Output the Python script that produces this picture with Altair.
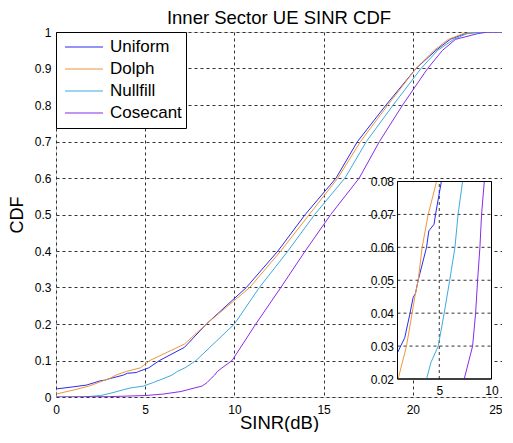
import altair as alt
import pandas as pd

# ---------------- data ----------------
series_names = ["Uniform", "Dolph", "Nullfill", "Cosecant"]
series_colors = ["#2a2af2", "#ef9638", "#3eaadf", "#8a2be8"]

uniform_x = [0, 1.0, 1.7, 2.18, 2.5, 2.72, 2.98, 3.78, 4.0, 4.5, 4.64, 5.2, 5.8, 7.2, 8.43, 10.67, 12.44, 13.97, 15.7, 16.9, 18.5, 20.18, 21.3, 22.1, 22.9, 23.6, 25]
uniform_y = [0.022, 0.028, 0.0326, 0.0397, 0.0448, 0.046, 0.05, 0.06, 0.065, 0.067, 0.07, 0.08, 0.1, 0.136, 0.2, 0.3, 0.4, 0.5, 0.6, 0.7, 0.8, 0.9, 0.95, 0.98, 0.995, 1.0, 1.0]

dolph_x = [0, 1.06, 1.86, 2.4, 2.66, 2.98, 3.36, 3.94, 4.74, 5.26, 7.2, 8.43, 10.86, 12.6, 14.2, 15.8, 17.07, 18.6, 20.18, 21.2, 22.0, 22.8, 23.5, 25]
dolph_y = [0.008, 0.02, 0.03, 0.04, 0.045, 0.05, 0.06, 0.07, 0.08, 0.1, 0.145, 0.2, 0.3, 0.4, 0.5, 0.6, 0.7, 0.8, 0.9, 0.95, 0.98, 0.995, 1.0, 1.0]

nullfill_x = [0, 1.5, 2.5, 3.2, 3.78, 4.2, 4.9, 5.47, 6.0, 6.5, 6.8, 7.23, 7.85, 10.0, 11.4, 13.0, 14.5, 16.2, 17.4, 18.9, 20.46, 21.4, 22.3, 23.0, 24.0, 25]
nullfill_y = [0, 0.0, 0.004, 0.012, 0.02, 0.025, 0.03, 0.04, 0.05, 0.06, 0.07, 0.08, 0.1, 0.2, 0.3, 0.4, 0.5, 0.6, 0.7, 0.8, 0.9, 0.95, 0.98, 0.995, 1.0, 1.0]

cosecant_x = [0, 3.0, 5.0, 6.0, 7.0, 7.39, 8.19, 8.48, 8.67, 8.89, 9.05, 9.31, 9.87, 11.2, 12.6, 13.97, 15.4, 17.0, 18.13, 19.43, 20.83, 21.67, 22.4, 23.6, 24.2, 25]
cosecant_y = [0, 0.001, 0.004, 0.008, 0.015, 0.02, 0.03, 0.04, 0.05, 0.06, 0.07, 0.08, 0.1, 0.2, 0.3, 0.4, 0.5, 0.6, 0.7, 0.8, 0.9, 0.95, 0.98, 0.995, 1.0, 1.0]

x_ticks = [0, 5, 10, 15, 20, 25]
y_ticks = [0, 0.1, 0.2, 0.3, 0.4, 0.5, 0.6, 0.7, 0.8, 0.9, 1.0]

inset_x_domain = [1, 10]
inset_y_domain = [0.02, 0.08]
inset_x_ticks = [5, 10]
inset_y_ticks = [0.02, 0.03, 0.04, 0.05, 0.06, 0.07, 0.08]
inset_x_grid = [5]
inset_y_grid = [0.03, 0.04, 0.05, 0.06, 0.07]

rows = []
for name, xs, ys in zip(series_names,
                        [uniform_x, dolph_x, nullfill_x, cosecant_x],
                        [uniform_y, dolph_y, nullfill_y, cosecant_y]):
    for i, (xv, yv) in enumerate(zip(xs, ys)):
        rows.append({"series": name, "sinr": xv, "cdf": yv, "order": i})
df = pd.DataFrame(rows)

# ---------------- layout ----------------
PW, PH = 446, 365
FONT = "Liberation Sans"
GRID_DASH = [3, 3]
GRID_COLOR = "#333333"

# inset placement (pixels inside the plot area)
INS_X_RANGE = [341.5, 435.5]
INS_Y_RANGE = [347, 149.5]

color = alt.Color(
    "series:N",
    scale=alt.Scale(domain=series_names, range=series_colors),
    legend=alt.Legend(
        title=None, orient="top-left", offset=0, padding=4,
        strokeColor="black", fillColor="white", cornerRadius=0,
        symbolType="stroke", symbolSize=1444, symbolStrokeWidth=1.2, symbolOffset=4,
        labelFont=FONT, labelFontSize=17, labelColor="black",
        labelOffset=6, rowPadding=0, clipHeight=22, zindex=1,
    ),
)

main_x = alt.X(
    "sinr:Q",
    scale=alt.Scale(domain=[0, 25], nice=False, zero=False),
    axis=alt.Axis(values=x_ticks, title="SINR(dB)", grid=True, gridDash=GRID_DASH,
                  gridColor=GRID_COLOR, gridOpacity=1, ticks=False, domain=False,
                  labelFont=FONT, labelFontSize=12, labelColor="black", labelPadding=7,
                  labelAlign={"condition": {"test": "datum.value == 25", "value": "right"},
                              "value": "center"},
                  titleFont=FONT, titleFontSize=18.5, titleFontWeight="normal",
                  titleColor="black", titleBaseline="alphabetic", titleY=31, labelFlush=False),
)
main_y = alt.Y(
    "cdf:Q",
    scale=alt.Scale(domain=[0, 1], nice=False, zero=False),
    axis=alt.Axis(values=y_ticks, format=".1~f", title="CDF", grid=True, gridDash=GRID_DASH,
                  gridColor=GRID_COLOR, gridOpacity=1, ticks=False, domain=False,
                  labelFont=FONT, labelFontSize=12, labelColor="black", labelPadding=5,
                  titleFont=FONT, titleFontSize=18, titleFontWeight="normal",
                  titleColor="black", titlePadding=8, labelFlush=False),
)

main_lines = alt.Chart(df).mark_line(strokeWidth=1, clip=True).encode(
    x=main_x, y=main_y, color=color, order="order:Q"
)

# ---------------- inset ----------------
inset_x_axis = alt.Axis(orient="bottom", offset=-(PH - INS_Y_RANGE[0]), values=inset_x_ticks,
                        title=None, grid=False, ticks=False, domain=False, zindex=1,
                        labelFont=FONT, labelFontSize=12, labelColor="black", labelPadding=6,
                        labelFlush=False)
inset_y_axis = alt.Axis(orient="left", offset=-INS_X_RANGE[0], values=inset_y_ticks, format=".2f",
                        title=None, grid=False, ticks=False, domain=False, zindex=1,
                        labelFont=FONT, labelFontSize=12, labelColor="black", labelPadding=4,
                        labelFlush=False)
ix_scale = alt.Scale(domain=inset_x_domain, range=INS_X_RANGE, nice=False, zero=False)
iy_scale = alt.Scale(domain=inset_y_domain, range=INS_Y_RANGE, nice=False, zero=False)

frame_df = pd.DataFrame({"sinr": [inset_x_domain[0]], "sinr2": [inset_x_domain[1]],
                         "cdf": [inset_y_domain[0]], "cdf2": [inset_y_domain[1]]})
frame = alt.Chart(frame_df).mark_rect(fill="white", stroke="black", strokeWidth=1).encode(
    x=alt.X("sinr:Q", scale=ix_scale, axis=inset_x_axis), x2="sinr2:Q",
    y=alt.Y("cdf:Q", scale=iy_scale, axis=inset_y_axis), y2="cdf2:Q",
)

hgrid_df = pd.DataFrame({"cdf": inset_y_grid,
                         "sinr": [inset_x_domain[0]] * len(inset_y_grid),
                         "sinr2": [inset_x_domain[1]] * len(inset_y_grid)})
hgrid = alt.Chart(hgrid_df).mark_rule(strokeDash=GRID_DASH, color=GRID_COLOR, strokeWidth=1).encode(
    x=alt.X("sinr:Q", scale=ix_scale, axis=inset_x_axis), x2="sinr2:Q",
    y=alt.Y("cdf:Q", scale=iy_scale, axis=inset_y_axis),
)
vgrid_df = pd.DataFrame({"sinr": inset_x_grid,
                         "cdf": [inset_y_domain[0]] * len(inset_x_grid),
                         "cdf2": [inset_y_domain[1]] * len(inset_x_grid)})
vgrid = alt.Chart(vgrid_df).mark_rule(strokeDash=GRID_DASH, color=GRID_COLOR, strokeWidth=1).encode(
    x=alt.X("sinr:Q", scale=ix_scale, axis=inset_x_axis),
    y=alt.Y("cdf:Q", scale=iy_scale, axis=inset_y_axis), y2="cdf2:Q",
)

inset_lines = alt.Chart(df).transform_filter(
    (alt.datum.sinr >= inset_x_domain[0]) & (alt.datum.sinr <= inset_x_domain[1])
    & (alt.datum.cdf >= inset_y_domain[0]) & (alt.datum.cdf <= inset_y_domain[1])
).mark_line(strokeWidth=1).encode(
    x=alt.X("sinr:Q", scale=ix_scale, axis=inset_x_axis),
    y=alt.Y("cdf:Q", scale=iy_scale, axis=inset_y_axis),
    color=alt.Color("series:N", scale=alt.Scale(domain=series_names, range=series_colors), legend=None),
    order="order:Q",
)

frame_border = alt.Chart(frame_df).mark_rect(fill=None, stroke="black", strokeWidth=1).encode(
    x=alt.X("sinr:Q", scale=ix_scale, axis=inset_x_axis), x2="sinr2:Q",
    y=alt.Y("cdf:Q", scale=iy_scale, axis=inset_y_axis), y2="cdf2:Q",
)

inset = alt.layer(frame, hgrid, vgrid, inset_lines, frame_border)

chart = alt.layer(main_lines, inset).resolve_scale(
    x="independent", y="independent"
).properties(
    width=PW, height=PH,
    title=alt.TitleParams("Inner Sector UE SINR CDF", font=FONT, fontSize=18.5, fontWeight="normal",
                          color="black", offset=-1, frame="group"),
    padding={"left": 0, "top": 0, "right": 0, "bottom": 0},
).configure_view(stroke="black", strokeWidth=1).configure(background="white")

chart.save("out.html", embed_options={"renderer": "svg", "actions": False})
